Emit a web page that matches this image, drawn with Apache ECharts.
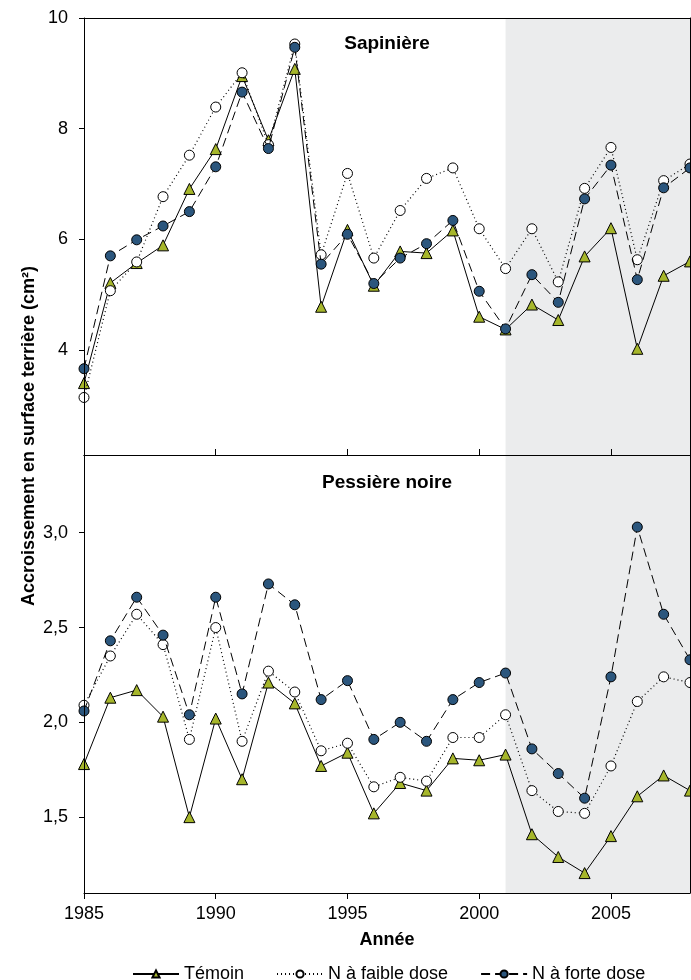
<!DOCTYPE html>
<html>
<head>
<meta charset="utf-8">
<script src="https://cdn.jsdelivr.net/npm/echarts@6/dist/echarts.min.js"></script>
<style>html,body{margin:0;padding:0;background:#fff}#c{width:691px;height:980px}</style>
</head>
<body>
<div id="c"></div>
<script>
var years = [1985,1986,1987,1988,1989,1990,1991,1992,1993,1994,1995,1996,1997,1998,1999,2000,2001,2002,2003,2004,2005,2006,2007,2008];
// Sapinière
var sapTemoin = [3.40,5.21,5.57,5.89,6.91,7.63,8.95,7.79,9.08,4.78,6.17,5.16,5.78,5.75,6.16,4.60,4.37,4.82,4.54,5.69,6.20,4.02,5.34,5.60];
var sapFaible = [3.14,5.07,5.59,6.77,7.52,8.39,9.01,7.71,9.53,5.72,7.19,5.66,6.52,7.10,7.29,6.19,5.47,6.19,5.23,6.92,7.66,5.63,7.06,7.36];
var sapForte  = [3.66,5.70,5.99,6.24,6.50,7.31,8.66,7.64,9.47,5.55,6.09,5.20,5.66,5.92,6.34,5.06,4.38,5.36,4.86,6.73,7.34,5.27,6.93,7.29];
// Pessière noire
var pesTemoin = [1.78,2.13,2.17,2.03,1.50,2.02,1.70,2.21,2.10,1.77,1.84,1.52,1.68,1.64,1.81,1.80,1.83,1.41,1.29,1.205,1.40,1.61,1.72,1.64];
var pesFaible = [2.09,2.35,2.57,2.41,1.91,2.50,1.90,2.27,2.16,1.85,1.89,1.66,1.71,1.69,1.92,1.92,2.04,1.64,1.53,1.52,1.77,2.11,2.24,2.21];
var pesForte  = [2.06,2.43,2.66,2.46,2.04,2.66,2.15,2.73,2.62,2.12,2.22,1.91,2.00,1.90,2.12,2.21,2.26,1.86,1.73,1.60,2.24,3.03,2.57,2.33];

var xTicks = [1985,1990,1995,2000,2005];
var sapTicks = [4,6,8,10];
var pesTicks = [1.5,2.0,2.5,3.0];
var shadeRange = [2001,2008];
var seriesNames = ['Témoin','N à faible dose','N à forte dose'];

var FONT = "'Liberation Sans', Arial, Helvetica, sans-serif";
var GREEN = '#a6b62b', BLUE = '#2b567d';

function pts(arr){ return years.map(function(y,i){ return [y, arr[i]]; }); }

function xAx(gi, bottom){
  return {
    type:'value', gridIndex:gi, min:1985, max:2008, position:'bottom', z:10,
    axisLine:{show:true, onZero:false, lineStyle:{color:'#000', width:1}},
    axisTick:{show:true, inside:!bottom, length:6, customValues:xTicks, lineStyle:{color:'#000'}},
    axisLabel:{show:bottom, customValues:xTicks, color:'#000', fontSize:18, fontFamily:FONT, margin:12,
      formatter:function(v){ return String(v); }},
    splitLine:{show:false},
    name: bottom ? 'Année' : '', nameLocation:'middle', nameGap:38,
    nameTextStyle:{color:'#000', fontSize:18, fontWeight:'bold', fontFamily:FONT}
  };
}
function xTop(gi){
  return {type:'value', gridIndex:gi, min:1985, max:2008, position:'top', z:10,
    axisLine:{show:true, onZero:false, lineStyle:{color:'#000'}}, axisTick:{show:false}, axisLabel:{show:false}, splitLine:{show:false}};
}
function yAx(gi, mn, mx, ticks, fmt){
  return {
    type:'value', gridIndex:gi, min:mn, max:mx, position:'left', z:10,
    axisLine:{show:true, onZero:false, lineStyle:{color:'#000'}},
    axisTick:{show:true, length:5, customValues:ticks, lineStyle:{color:'#000'}},
    axisLabel:{customValues:ticks, color:'#000', fontSize:18, fontFamily:FONT, margin:16, formatter:fmt},
    splitLine:{show:false}
  };
}
function yRight(gi, mn, mx){
  return {type:'value', gridIndex:gi, min:mn, max:mx, position:'right', z:10,
    axisLine:{show:true, onZero:false, lineStyle:{color:'#000'}}, axisTick:{show:false}, axisLabel:{show:false}, splitLine:{show:false}};
}

function mk(name, data, xi, yi, shade){
  var s = {
    name:name, type:'line', xAxisIndex:xi, yAxisIndex:yi, data:pts(data),
    symbolSize:10, showSymbol:true, animation:false
  };
  if(name==='Témoin'){
    s.symbol='triangle'; s.symbolSize=11;
    s.lineStyle={color:'#000', width:1, type:'solid'};
    s.itemStyle={color:GREEN, borderColor:'#000', borderWidth:1};
    s.z=3;
  } else if(name==='N à faible dose'){
    s.symbol='circle';
    s.lineStyle={color:'#000', width:1.2, type:[1,3]};
    s.itemStyle={color:'#fff', borderColor:'#000', borderWidth:1};
    s.z=4;
  } else {
    s.symbol='circle';
    s.lineStyle={color:'#000', width:1, type:[9,5]};
    s.itemStyle={color:BLUE, borderColor:'#000', borderWidth:1};
    s.z=5;
  }
  if(shade){
    s.markArea={silent:true, z:1, itemStyle:{color:'#ebeced'}, data:[[{xAxis:shadeRange[0]},{xAxis:shadeRange[1]}]]};
  }
  return s;
}

var chart = echarts.init(document.getElementById('c'), null, {renderer:'canvas'});
var fmtInt = function(v){ return String(v); };
var fmtDec = function(v){ return v.toFixed(1).replace('.', ','); };

chart.setOption({
  backgroundColor:'#fff',
  animation:false,
  textStyle:{fontFamily:FONT},
  grid:[
    {left:84, right:1, top:18, height:437},
    {left:84, right:1, top:455, height:438}
  ],
  xAxis:[xAx(0,false), xAx(1,true), xTop(0), xTop(1)],
  yAxis:[yAx(0,2.1,10,sapTicks,fmtInt), yAx(1,1.1,3.41,pesTicks,fmtDec), yRight(0,2.1,10), yRight(1,1.1,3.41)],
  legend:{
    left:127, top:960, itemWidth:46, itemHeight:9, itemGap:32,
    textStyle:{color:'#000', fontSize:18, fontFamily:FONT, padding:[0,0,0,0]},
    data:seriesNames
  },
  graphic:[
    {type:'text', x:29, y:436, rotation:Math.PI/2,
     style:{text:'Accroissement en surface terrière (cm²)', fill:'#000', font:'bold 18px '+FONT, textAlign:'center', textVerticalAlign:'middle'}},
    {type:'text', x:387, y:44, z:20,
     style:{text:'Sapinière', fill:'#000', font:'bold 19px '+FONT, textAlign:'center', textVerticalAlign:'middle'}},
    {type:'text', x:387, y:483, z:20,
     style:{text:'Pessière noire', fill:'#000', font:'bold 19px '+FONT, textAlign:'center', textVerticalAlign:'middle'}}
  ],
  series:[
    mk('Témoin', sapTemoin, 0, 0, true),
    mk('N à faible dose', sapFaible, 0, 0, false),
    mk('N à forte dose', sapForte, 0, 0, false),
    mk('Témoin', pesTemoin, 1, 1, true),
    mk('N à faible dose', pesFaible, 1, 1, false),
    mk('N à forte dose', pesForte, 1, 1, false)
  ]
});
</script>
</body>
</html>
